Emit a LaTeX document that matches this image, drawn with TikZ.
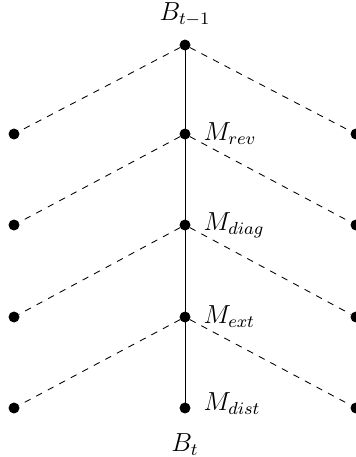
\documentclass[tikz,border=0pt]{standalone}
\begin{document}
\begin{tikzpicture}[x=0.46pt, y=-0.46pt, dot/.style={draw, fill, circle, inner sep=0pt, minimum size=4.6pt}, label distance=2.5pt, every label/.append style={font=\large}]
        \useasboundingbox (0,0) rectangle (356,457);
        \node[dot, label=above:$B_{t-1}$] (b0) at (185,45) {};
        \node[dot, label=right:$M_{rev}$] (m1) at (185,134) {};
        \node[dot, label=right:$M_{diag}$] (m2) at (185,225) {};
        \node[dot, label=right:$M_{ext}$] (m3) at (185,317) {};
        \node[dot, label={[yshift=2pt]right:$M_{dist}$}, label={[label distance=6pt]below:$B_t$}] (b1) at (185,408) {};
        \node[dot] (l1) at (14,134) {};
        \node[dot] (l2) at (14,225) {};
        \node[dot] (l3) at (14,317) {};
        \node[dot] (l4) at (14,408) {};
        \node[dot] (r1) at (356,134) {};
        \node[dot] (r2) at (356,225) {};
        \node[dot] (r3) at (356,317) {};
        \node[dot] (r4) at (356,408) {};
        \draw (b0)--(m1)--(m2)--(m3)--(b1);
        \draw[dashed] (b0)--(l1) (b0)--(r1);
        \draw[dashed] (m1)--(l2) (m1)--(r2);
        \draw[dashed] (m2)--(l3) (m2)--(r3);
        \draw[dashed] (m3)--(l4) (m3)--(r4);
    \end{tikzpicture}
\end{document}
